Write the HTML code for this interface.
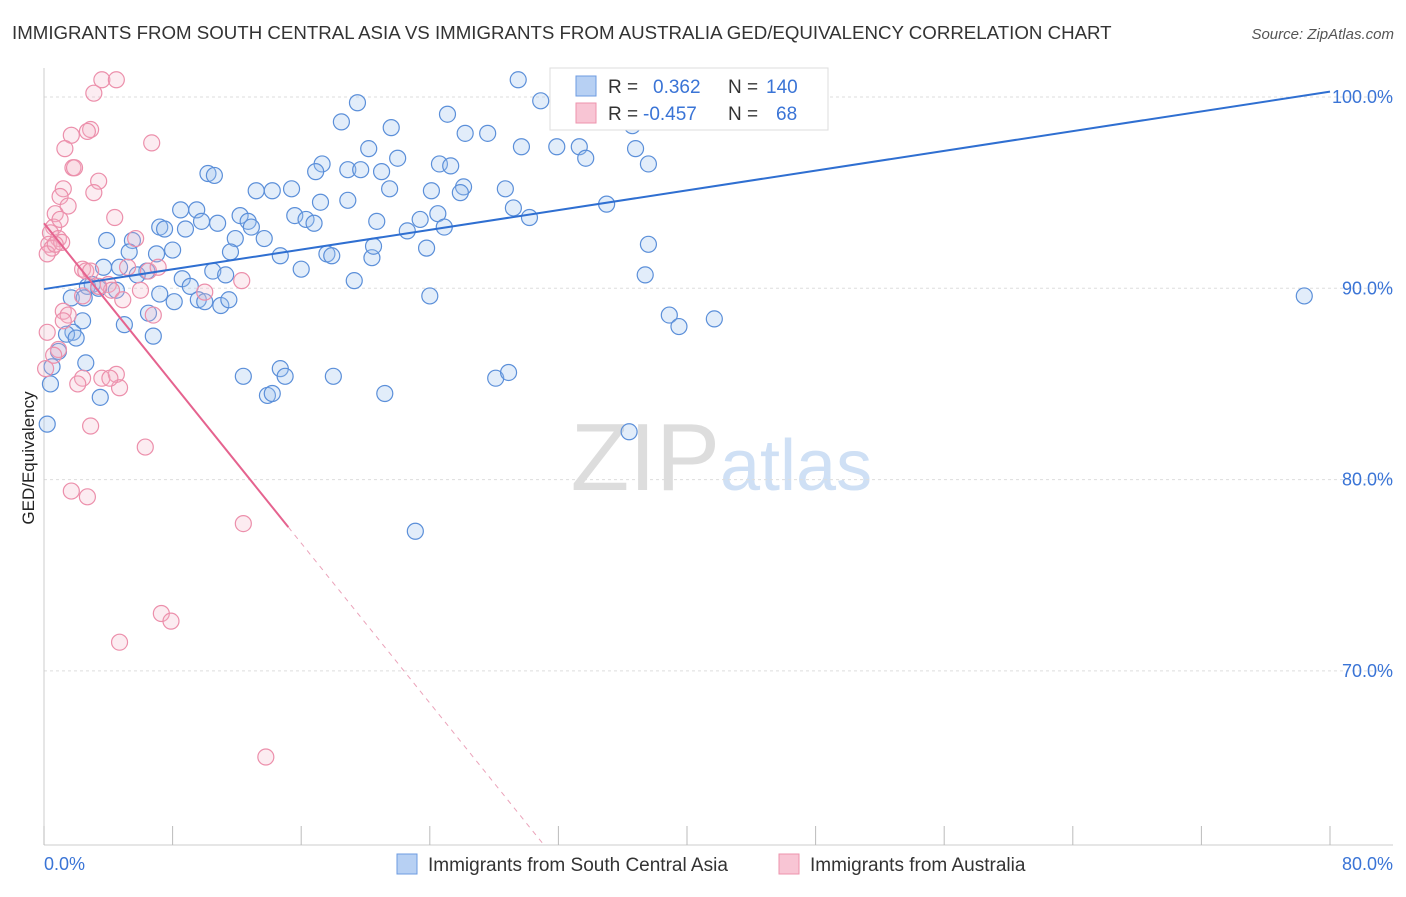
<!DOCTYPE html>
<html><head><meta charset="utf-8"><style>
body{margin:0;background:#fff;font-family:"Liberation Sans",sans-serif}
svg text{font-family:"Liberation Sans",sans-serif}
</style></head><body>
<svg id="chart" width="1406" height="892" xmlns="http://www.w3.org/2000/svg">
<text x="12" y="39" font-size="18.7" fill="#333">IMMIGRANTS FROM SOUTH CENTRAL ASIA VS IMMIGRANTS FROM AUSTRALIA GED/EQUIVALENCY CORRELATION CHART</text>
<text x="1394" y="39" font-size="15" fill="#555" text-anchor="end" font-style="italic">Source: ZipAtlas.com</text>
<text x="720" y="490" font-size="96" fill="#ddd" text-anchor="end" font-family="Liberation Serif">ZIP</text>
<text x="720" y="490" font-size="72" fill="#cfe0f5">atlas</text>
<g id="grid"></g><g id="axes"></g><g id="pts"></g><g id="trend"></g>
<text transform="translate(34,458) rotate(-90)" font-size="17" fill="#222" text-anchor="middle">GED/Equivalency</text>
<g>
<rect x="550" y="68" width="278" height="62" fill="#fff" stroke="#ddd"/>
<rect x="576" y="76" width="20" height="20" fill="#b7d0f3" stroke="#6d9be0"/>
<rect x="576" y="103" width="20" height="20" fill="#f8c5d4" stroke="#ee93ad"/>
<text x="608" y="93" font-size="19" fill="#333">R = <tspan x="653" fill="#3a74d6">0.362</tspan><tspan x="728" fill="#333">N = </tspan><tspan x="766" fill="#3a74d6">140</tspan></text>
<text x="608" y="120" font-size="19" fill="#333">R = <tspan x="643" fill="#3a74d6">-0.457</tspan><tspan x="728" fill="#333">N = </tspan><tspan x="776" fill="#3a74d6">68</tspan></text>
</g>
<g>
<rect x="397" y="854" width="20" height="20" fill="#b7d0f3" stroke="#6d9be0"/>
<text x="428" y="871" font-size="19" fill="#333">Immigrants from South Central Asia</text>
<rect x="779" y="854" width="20" height="20" fill="#f8c5d4" stroke="#ee93ad"/>
<text x="810" y="871" font-size="19" fill="#333">Immigrants from Australia</text>
</g>
</svg>
<script>
const blueX=[29.5,30.9,19.5,25.1,21.6,18.5,26.2,27.6,20.2,29.7,31.9,33.3,22.0,33.7,36.8,36.6,37.6,35.9,24.6,25.3,17.3,18.9,19.7,21.0,10.2,10.6,16.9,15.4,13.2,14.2,21.5,24.1,26.1,28.7,25.9,18.9,17.2,8.5,9.5,29.2,35.0,12.2,15.6,12.7,16.3,16.8,20.7,24.5,23.4,30.2,10.8,9.8,7.2,7.5,8.8,11.9,13.7,12.9,22.6,24.9,3.9,5.5,5.3,7.0,8.0,11.6,14.7,17.6,17.9,20.4,23.8,20.5,37.6,3.7,4.7,6.4,5.8,8.6,10.5,11.3,16.0,37.4,3.0,4.5,2.7,3.4,1.7,2.5,7.2,8.1,9.1,9.6,10.0,11.0,11.5,19.3,24.0,6.5,5.0,2.4,1.8,1.4,2.0,6.8,38.9,39.5,41.7,78.4,0.9,2.6,0.5,12.4,14.7,15.0,18.0,28.1,28.9,13.9,14.2,21.2,3.5,0.4,0.2,36.4,23.1];
const blueY=[100.9,99.8,99.7,99.1,98.4,98.7,98.1,98.1,97.3,97.4,97.4,97.4,96.8,96.8,97.3,98.5,96.5,99.1,96.5,96.4,96.5,96.2,96.2,96.1,96.0,95.9,96.1,95.2,95.1,95.1,95.2,95.1,95.3,95.2,95.0,94.6,94.5,94.1,94.1,94.2,94.4,93.8,93.8,93.5,93.6,93.4,93.5,93.9,93.6,93.7,93.4,93.5,93.2,93.1,93.1,92.6,92.6,93.2,93.0,93.2,92.5,92.5,91.9,91.8,92.0,91.9,91.7,91.8,91.7,91.6,92.1,92.2,92.3,91.1,91.1,90.9,90.7,90.5,90.9,90.7,91.0,90.7,90.2,89.9,90.1,90.0,89.5,89.5,89.7,89.3,90.1,89.4,89.3,89.1,89.4,90.4,89.6,88.7,88.1,88.3,87.7,87.6,87.4,87.5,88.6,88.0,88.4,89.6,86.7,86.1,85.9,85.4,85.8,85.4,85.4,85.3,85.6,84.4,84.5,84.5,84.3,85.0,82.9,82.5,77.3];
const pinkX=[3.6,4.5,3.1,2.9,2.7,1.7,6.7,1.3,1.8,1.9,1.2,3.4,3.1,1.0,1.5,0.7,4.4,0.6,0.4,0.9,0.3,0.5,1.1,0.2,5.7,2.4,2.6,2.9,5.2,6.5,7.1,4.0,4.2,6.0,2.4,3.4,4.9,10.0,12.3,1.2,1.5,1.2,6.8,0.2,0.9,0.6,2.4,2.1,3.6,4.5,4.7,2.9,6.3,1.7,2.7,12.4,7.3,7.9,4.7,13.8,0.1,0.7,1.0,4.1];
const pinkY=[100.9,100.9,100.2,98.3,98.2,98.0,97.6,97.3,96.3,96.3,95.2,95.6,95.0,94.8,94.3,93.9,93.7,93.2,92.9,92.6,92.3,92.1,92.4,91.8,92.6,91.0,90.9,90.9,91.1,90.9,91.1,90.2,89.9,89.9,89.6,90.1,89.4,89.8,90.4,88.8,88.6,88.3,88.6,87.7,86.8,86.5,85.3,85.0,85.3,85.5,84.8,82.8,81.7,79.4,79.1,77.7,73.0,72.6,71.5,65.5,85.8,92.3,93.6,85.3];
const blueTrend=[89.96,0.129]; // intercept, slope
const pinkTrend=[93.4,-1.045];
const pinkSolidEnd=15.2;
const yTicks=[100,90,80,70];
const yTickLabels=["100.0%","90.0%","80.0%","70.0%"];
const xTickLabels=["0.0%","80.0%"];

const NS="http://www.w3.org/2000/svg";
const X=v=>44+v*16.075, Y=v=>97+(100-v)*19.13;
function mk(parent,tag,attrs){const e=document.createElementNS(NS,tag);for(const k in attrs)e.setAttribute(k,attrs[k]);document.getElementById(parent).appendChild(e);return e;}
yTicks.forEach((t,i)=>{
  const l=mk('grid','line',{x1:44,x2:1393,y1:Y(t),y2:Y(t),stroke:'#ddd','stroke-dasharray':'3,3'});
  
  
  const tx=mk('grid','text',{x:1393,y:Y(t)+6,'font-size':18,fill:'#3a74d6','text-anchor':'end'});
  tx.textContent=yTickLabels[i];
  
  
});
const ax=mk('axes','line',{x1:44,x2:44,y1:68,y2:845,stroke:'#ccc'});


const bx=mk('axes','line',{x1:44,x2:1393,y1:845,y2:845,stroke:'#ccc'});


for(let v=0;v<=80;v+=8){
  const t=mk('axes','line',{x1:X(v),x2:X(v),y1:826,y2:845,stroke:'#bbb'});
  
  
}
[[0,'start'],[80,'end']].forEach(([v,a],i)=>{
  const t=mk('axes','text',{x:i?1393:44,y:870,'font-size':18,fill:'#3a74d6','text-anchor':a});
  t.textContent=xTickLabels[i];
  
  
});
blueX.forEach((x,i)=>{
  const c=mk('pts','circle',{cx:X(x),cy:Y(blueY[i]),r:8,fill:'rgba(160,195,240,0.3)',stroke:'#5b8fd9','stroke-width':1.2});
  
  
});
pinkX.forEach((x,i)=>{
  const c=mk('pts','circle',{cx:X(x),cy:Y(pinkY[i]),r:8,fill:'rgba(245,180,200,0.25)',stroke:'#ec8fab','stroke-width':1.2});
  
  
});
const bl=mk('trend','line',{x1:X(0),y1:Y(blueTrend[0]),x2:X(80),y2:Y(blueTrend[0]+80*blueTrend[1]),stroke:'#2f6fd1','stroke-width':2});


const pEnd=pinkTrend[0]+pinkSolidEnd*pinkTrend[1];
const pl=mk('trend','line',{x1:X(0),y1:Y(pinkTrend[0]),x2:X(pinkSolidEnd),y2:Y(pEnd),stroke:'#e5638f','stroke-width':2});


const xb=(60.9-pinkTrend[0])/pinkTrend[1];
const pd=mk('trend','line',{x1:X(pinkSolidEnd),y1:Y(pEnd),x2:X(xb),y2:Y(60.9),stroke:'#eba3ba','stroke-width':1,'stroke-dasharray':'5,5'});


</script>
</body></html>
